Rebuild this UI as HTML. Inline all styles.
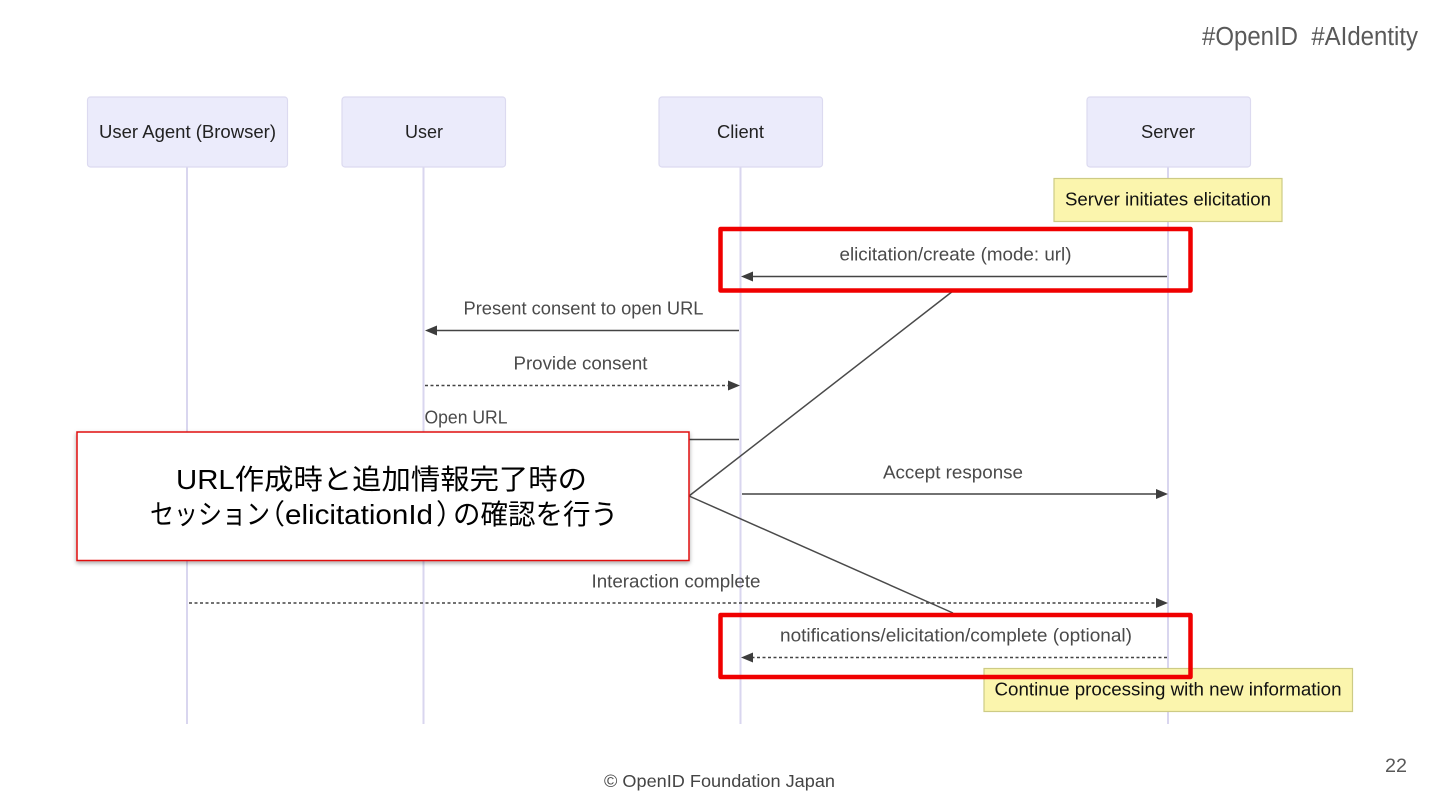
<!DOCTYPE html>
<html lang="ja">
<head>
<meta charset="utf-8">
<title>Sequence diagram</title>
<style>
html,body{margin:0;padding:0;background:#fff;width:1440px;height:810px;overflow:hidden}
svg{display:block}
text{font-family:"Liberation Sans","Noto Sans CJK JP",sans-serif}
</style>
</head>
<body>
<svg width="1440" height="810" viewBox="0 0 1440 810" xmlns="http://www.w3.org/2000/svg">
<defs>
<filter id="sh" x="-5%" y="-10%" width="110%" height="125%">
<feDropShadow dx="0" dy="2" stdDeviation="2" flood-color="#000" flood-opacity="0.35"/>
</filter>
</defs>
<rect width="1440" height="810" fill="#fff"/>

<text x="1418" y="45" font-size="25.500" fill="#595959" text-anchor="end" textLength="216" lengthAdjust="spacingAndGlyphs" xml:space="preserve">#OpenID  #AIdentity</text>

<!-- lifelines -->
<g stroke="#d9d6ef" stroke-width="2">
<line x1="187" y1="167" x2="187" y2="724"/>
<line x1="423.500" y1="167" x2="423.500" y2="724"/>
<line x1="740.500" y1="167" x2="740.500" y2="724"/>
<line x1="1168" y1="167" x2="1168" y2="724"/>
</g>

<!-- actors -->
<g fill="#ebebfb" stroke="#dcdaf0" stroke-width="1.200">
<rect x="87.500" y="97" width="200" height="70" rx="3"/>
<rect x="342" y="97" width="163.500" height="70" rx="3"/>
<rect x="659" y="97" width="163.500" height="70" rx="3"/>
<rect x="1087" y="97" width="163.500" height="70" rx="3"/>
</g>
<g font-size="18.500" fill="#222" text-anchor="middle">
<text x="187.500" y="138" textLength="177" lengthAdjust="spacingAndGlyphs">User Agent (Browser)</text>
<text x="424" y="138" textLength="38" lengthAdjust="spacingAndGlyphs">User</text>
<text x="740.500" y="138" textLength="47" lengthAdjust="spacingAndGlyphs">Client</text>
<text x="1168" y="138" textLength="54" lengthAdjust="spacingAndGlyphs">Server</text>
</g>

<!-- notes -->
<g fill="#fbf5ad" stroke="#cdcb85" stroke-width="1.200">
<rect x="1054" y="178.500" width="228" height="43"/>
<rect x="984" y="668.500" width="368.500" height="43"/>
</g>
<g font-size="18.500" fill="#111" text-anchor="middle">
<text x="1168" y="205.500" textLength="206" lengthAdjust="spacingAndGlyphs">Server initiates elicitation</text>
<text x="1168" y="695.500" textLength="347" lengthAdjust="spacingAndGlyphs">Continue processing with new information</text>
</g>

<!-- messages -->
<g stroke="#444" stroke-width="1.600" fill="none">
<line x1="1167" y1="276.500" x2="750" y2="276.500"/>
<line x1="739" y1="330.500" x2="434" y2="330.500"/>
<line x1="425" y1="385.500" stroke-width="1.500" stroke-dasharray="3 2.500" x2="730" y2="385.500"/>
<line x1="739" y1="439.500" x2="600" y2="439.500"/>
<line x1="742" y1="494" x2="1158" y2="494"/>
<line x1="189" y1="603" stroke-width="1.500" stroke-dasharray="3 2.500" x2="1158" y2="603"/>
<line x1="1167" y1="657.500" stroke-width="1.500" stroke-dasharray="3 2.500" x2="750" y2="657.500"/>
</g>
<g fill="#3d3d3d">
<polygon points="741,276.500 753,271.500 753,281.500"/>
<polygon points="425,330.500 437,325.500 437,335.500"/>
<polygon points="740,385.500 728,380.500 728,390.500"/>
<polygon points="1168,494 1156,489 1156,499"/>
<polygon points="1168,603 1156,598 1156,608"/>
<polygon points="741,657.500 753,652.500 753,662.500"/>
</g>
<g font-size="18.500" fill="#4a4a4a" text-anchor="middle">
<text x="955.500" y="260.500" textLength="232" lengthAdjust="spacingAndGlyphs">elicitation/create (mode: url)</text>
<text x="583.500" y="314.500" textLength="240" lengthAdjust="spacingAndGlyphs">Present consent to open URL</text>
<text x="580.500" y="369.500" textLength="134" lengthAdjust="spacingAndGlyphs">Provide consent</text>
<text x="466" y="423.500" textLength="83" lengthAdjust="spacingAndGlyphs">Open URL</text>
<text x="953" y="478.500" textLength="140" lengthAdjust="spacingAndGlyphs">Accept response</text>
<text x="676" y="587.500" textLength="169" lengthAdjust="spacingAndGlyphs">Interaction complete</text>
<text x="956" y="641.500" textLength="352" lengthAdjust="spacingAndGlyphs">notifications/elicitation/complete (optional)</text>
</g>

<!-- callout leader lines -->
<g stroke="#4a4a4a" stroke-width="1.500" fill="none">
<line x1="689" y1="496" x2="953" y2="291"/>
<line x1="689" y1="496" x2="953" y2="613"/>
</g>

<!-- red highlight frames -->
<g fill="none" stroke="#f00000" stroke-width="4.500" stroke-linejoin="round">
<rect x="720.500" y="229" width="470" height="61.500"/>
<rect x="720.500" y="615" width="470" height="62"/>
</g>

<!-- callout -->
<rect x="77" y="432" width="612" height="128.500" fill="#fff" stroke="#e01010" stroke-width="1.500" filter="url(#sh)"/>
<g font-size="28" fill="#000">
<text x="176" y="489" textLength="411" lengthAdjust="spacingAndGlyphs">URL作成時と追加情報完了時の</text>
<text x="150" y="524" textLength="120" lengthAdjust="spacingAndGlyphs">セッション</text>
<text x="257" y="524">（</text>
<text x="285" y="524" textLength="148" lengthAdjust="spacingAndGlyphs">elicitationId</text>
<text x="436" y="524">）</text>
<text x="453" y="524" textLength="165" lengthAdjust="spacingAndGlyphs">の確認を行う</text>
</g>

<!-- footer -->
<text x="719.500" y="787" font-size="17.500" fill="#444" text-anchor="middle" textLength="231" lengthAdjust="spacingAndGlyphs">© OpenID Foundation Japan</text>
<text x="1396" y="772" font-size="19" fill="#595959" text-anchor="middle" textLength="22" lengthAdjust="spacingAndGlyphs">22</text>
</svg>
</body>
</html>
